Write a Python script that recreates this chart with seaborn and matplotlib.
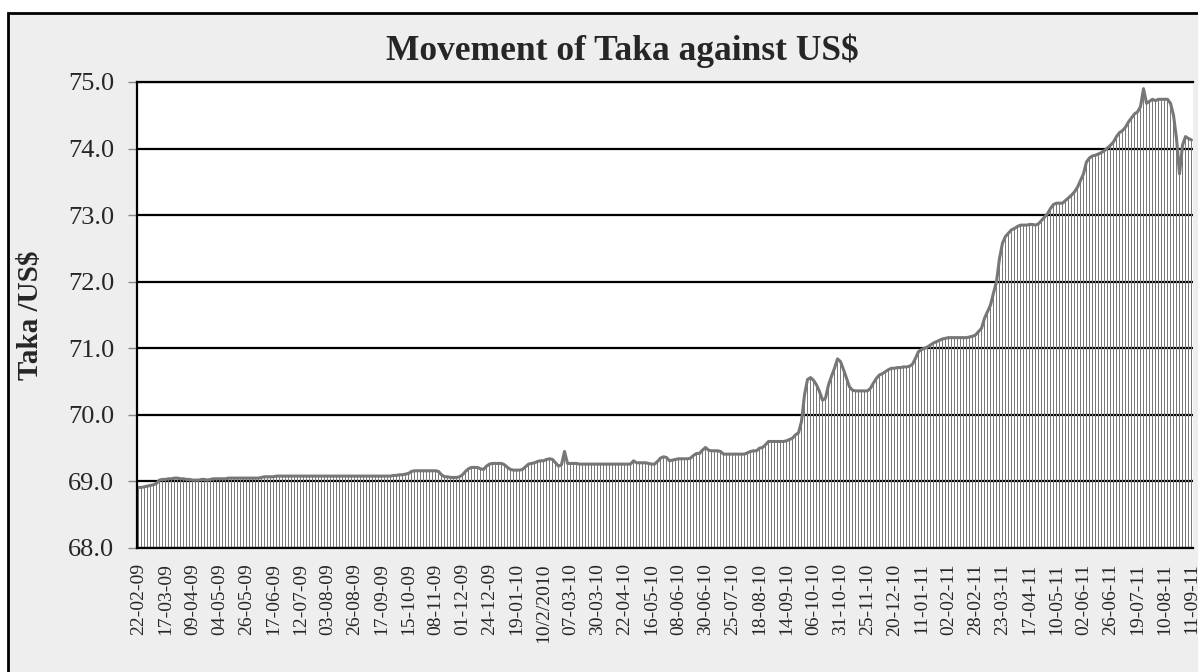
import numpy as np
import pandas as pd
import matplotlib.pyplot as plt
import seaborn as sns
from matplotlib.patches import Rectangle


rates = [
    68.91, 68.91, 68.92, 68.93, 68.94, 68.95, 68.97, 69.02, 69.03,
    69.03, 69.04, 69.04, 69.05, 69.05, 69.04, 69.04, 69.03, 69.03,
    69.02, 69.02, 69.02, 69.03, 69.03, 69.02, 69.03, 69.04, 69.04,
    69.04, 69.04, 69.04, 69.05, 69.05, 69.05, 69.05, 69.05, 69.05,
    69.05, 69.05, 69.05, 69.05, 69.05, 69.06, 69.07, 69.07, 69.07,
    69.07, 69.08, 69.08, 69.08, 69.08, 69.08, 69.08, 69.08, 69.08,
    69.08, 69.08, 69.08, 69.08, 69.08, 69.08, 69.08, 69.08, 69.08,
    69.08, 69.08, 69.08, 69.08, 69.08, 69.08, 69.08, 69.08, 69.08,
    69.08, 69.08, 69.08, 69.08, 69.08, 69.08, 69.08, 69.08, 69.08,
    69.08, 69.08, 69.08, 69.08, 69.09, 69.09, 69.10, 69.10, 69.11,
    69.12, 69.15, 69.16, 69.16, 69.16, 69.16, 69.16, 69.16, 69.16,
    69.16, 69.15, 69.10, 69.07, 69.07, 69.06, 69.06, 69.06, 69.07,
    69.10, 69.15, 69.19, 69.21, 69.21, 69.21, 69.19, 69.18, 69.23,
    69.26, 69.27, 69.27, 69.27, 69.27, 69.25, 69.21, 69.18, 69.17,
    69.17, 69.17, 69.18, 69.22, 69.26, 69.27, 69.28, 69.30, 69.31,
    69.31, 69.33, 69.34, 69.33, 69.28, 69.23, 69.25, 69.45, 69.27,
    69.27, 69.27, 69.27, 69.26, 69.26, 69.26, 69.26, 69.26, 69.26,
    69.26, 69.26, 69.26, 69.26, 69.26, 69.26, 69.26, 69.26, 69.26,
    69.26, 69.26, 69.26, 69.31, 69.28, 69.28, 69.28, 69.28, 69.27,
    69.26, 69.26, 69.30, 69.35, 69.37, 69.36, 69.31, 69.32, 69.33,
    69.34, 69.34, 69.34, 69.34, 69.35, 69.39, 69.42, 69.42, 69.47,
    69.51, 69.47, 69.46, 69.46, 69.46, 69.45, 69.41, 69.41, 69.41,
    69.41, 69.41, 69.41, 69.41, 69.41, 69.43, 69.45, 69.46, 69.46,
    69.50, 69.51, 69.55, 69.60, 69.60, 69.60, 69.60, 69.60, 69.60,
    69.61, 69.63, 69.65, 69.70, 69.73, 69.90, 70.30, 70.53, 70.56,
    70.52, 70.45, 70.35, 70.22, 70.25, 70.45, 70.58, 70.70, 70.84,
    70.80, 70.68, 70.55, 70.42, 70.37, 70.36, 70.36, 70.36, 70.36,
    70.36, 70.40, 70.48, 70.55, 70.60, 70.62, 70.65, 70.68, 70.70,
    70.70, 70.71, 70.71, 70.72, 70.72, 70.73, 70.76, 70.85, 70.95,
    70.98, 71.00, 71.02, 71.05, 71.08, 71.10, 71.12, 71.14, 71.15,
    71.16, 71.16, 71.16, 71.16, 71.16, 71.16, 71.16, 71.17, 71.18,
    71.20, 71.25, 71.30, 71.45, 71.55, 71.65, 71.83, 72.00, 72.35,
    72.58, 72.68, 72.73, 72.78, 72.80, 72.83, 72.85, 72.85, 72.85,
    72.86, 72.86, 72.85, 72.87, 72.92, 72.97, 73.02, 73.10, 73.16,
    73.18, 73.18, 73.18, 73.22, 73.26, 73.30, 73.35, 73.42, 73.52,
    73.62, 73.80, 73.86, 73.89, 73.90, 73.92, 73.94, 73.97, 74.01,
    74.05, 74.10, 74.18, 74.24, 74.27, 74.32, 74.40, 74.46, 74.52,
    74.55, 74.63, 74.90, 74.68, 74.71, 74.74, 74.72, 74.74, 74.74,
    74.74, 74.74, 74.68, 74.50, 74.15, 73.62, 74.05, 74.18, 74.15,
    74.13,
]

# date labels, one on every 9th bar
tick_labels = [
    "22-02-09", "17-03-09", "09-04-09", "04-05-09", "26-05-09", "17-06-09",
    "12-07-09", "03-08-09", "26-08-09", "17-09-09", "15-10-09", "08-11-09",
    "01-12-09", "24-12-09", "19-01-10", "10/2/2010", "07-03-10", "30-03-10",
    "22-04-10", "16-05-10", "08-06-10", "30-06-10", "25-07-10", "18-08-10",
    "14-09-10", "06-10-10", "31-10-10", "25-11-10", "20-12-10", "11-01-11",
    "02-02-11", "28-02-11", "23-03-11", "17-04-11", "10-05-11", "02-06-11",
    "26-06-11", "19-07-11", "10-08-11", "11-09-11",
]
label_step = 9
y_ticks = [68.0, 69.0, 70.0, 71.0, 72.0, 73.0, 74.0, 75.0]

sns.set_theme(style="white")
plt.rcParams['font.family'] = ['Liberation Serif', 'DejaVu Serif']

df = pd.DataFrame({'pos': np.arange(len(rates)), 'rate': rates})

W, H = 1198, 672
fig = plt.figure(figsize=(W / 100, H / 100), dpi=100, facecolor='white')

# grey chart area with black frame (cut off at right and bottom)
fig.patches.append(Rectangle((8 / W, -0.05), 1.1, 1 - 13 / H + 0.05,
                             transform=fig.transFigure, facecolor='#eeeeee',
                             edgecolor='black', linewidth=2, zorder=-1))

ax = fig.add_axes([137 / W, 1 - 548 / H, 1056 / W, 466 / H])
ax.set_facecolor('white')

# thin bars with crisp white gaps, like the striped fill of the original
sns.barplot(data=df, x='pos', y='rate', color='#7a7a7a', saturation=1,
            width=0.66, linewidth=0, errorbar=None, antialiased=False, ax=ax)
sns.lineplot(data=df, x='pos', y='rate', color='#777777', linewidth=2.2, ax=ax)

ax.set_xlim(-0.5, len(rates) - 0.5)
ax.set_ylim(68, 75)
ax.set_yticks(y_ticks)
ax.set_yticklabels([f"{v:.1f}" for v in y_ticks], fontsize=19)
ax.set_xticks(np.arange(0, len(rates), label_step))
ax.set_xticklabels(tick_labels, rotation=90, fontsize=14)
ax.tick_params(axis='x', length=0, pad=11)
ax.tick_params(axis='y', left=True, length=6.5, width=1, color='#888888', pad=10)
ax.set_xlabel("")
ax.set_ylabel("")

ax.yaxis.grid(True, color='black', linewidth=1.6)
ax.set_axisbelow(True)
for side in ['left', 'bottom', 'top']:
    ax.spines[side].set_color('black')
    ax.spines[side].set_linewidth(1.6)
ax.spines['right'].set_visible(False)

fig.text(622 / W, 1 - 51 / H, "Movement of Taka against US$", ha='center',
         va='center', fontsize=25.5, fontweight='bold')
fig.text(31 / W, 1 - 315 / H, "Taka /US$", rotation=90, ha='center',
         va='center', fontsize=21, fontweight='bold')

fig.savefig('out.png', dpi=100, facecolor=fig.get_facecolor())
